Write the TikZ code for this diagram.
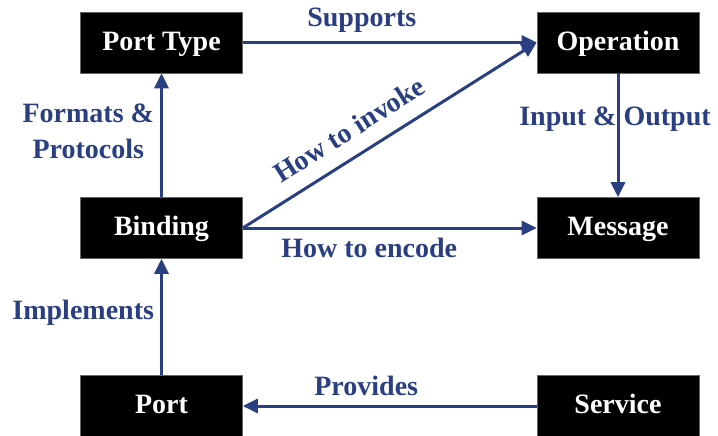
\documentclass[tikz,border=0pt]{standalone}
\usepackage{fontspec}
\setmainfont{Liberation Serif}
\usetikzlibrary{arrows.meta}
\definecolor{linkblue}{RGB}{42,63,130}
\begin{document}
\begin{tikzpicture}[x=1pt,y=-1pt,
  entity/.style={fill=black, draw=black!60, line width=0.6pt,
    minimum width=162pt, minimum height=61pt, inner sep=0pt,
    text height=18.5pt, text depth=2.8pt,
    text=white, font=\fontsize{28}{34}\selectfont\bfseries},
  link/.style={draw=linkblue, line width=3pt, -{Triangle[length=15pt,width=14pt]}},
  lbl/.style={text=linkblue, inner sep=0pt, align=center,
    font=\fontsize{28}{36}\selectfont\bfseries},
]
\useasboundingbox (0,0) rectangle (718,436);

% WSDL elements
\node[entity] (porttype)  at (161.5, 42.5) {Port Type};
\node[entity] (operation) at (618, 42.5)   {Operation};
\node[entity] (binding)   at (161.5, 228)  {Binding};
\node[entity] (message)   at (618, 228)    {Message};
\node[entity] (port)      at (161.5, 406)  {Port};
\node[entity] (service)   at (618, 406)    {Service};

% relations between the elements
\draw[link] (porttype) -- (operation)
  node[lbl, pos=0.405, above=9pt] (supports) {Supports};
\draw[link] (binding.north) -- (porttype.south)
  node[lbl, pos=0.53, left=6pt] (formats) {Formats \&\\Protocols};
\draw[link] (binding.east) -- (operation.west)
  node[lbl, pos=0.41, sloped, above=15pt] (invoke) {How to invoke};
\draw[link] (binding.east) -- (message.west)
  node[lbl, pos=0.43, below=9pt] (encode) {How to encode};
\draw[link] (operation.south) -- (message.north)
  node[lbl, pos=0.37, xshift=-3pt] (inout) {Input \& Output};
\draw[link] (port.north) -- (binding.south)
  node[lbl, pos=0.54, left=6pt] (implements) {Implements};
\draw[link] (service.west) -- (port.east)
  node[lbl, pos=0.58, above=9pt] (provides) {Provides};
\end{tikzpicture}
\end{document}
